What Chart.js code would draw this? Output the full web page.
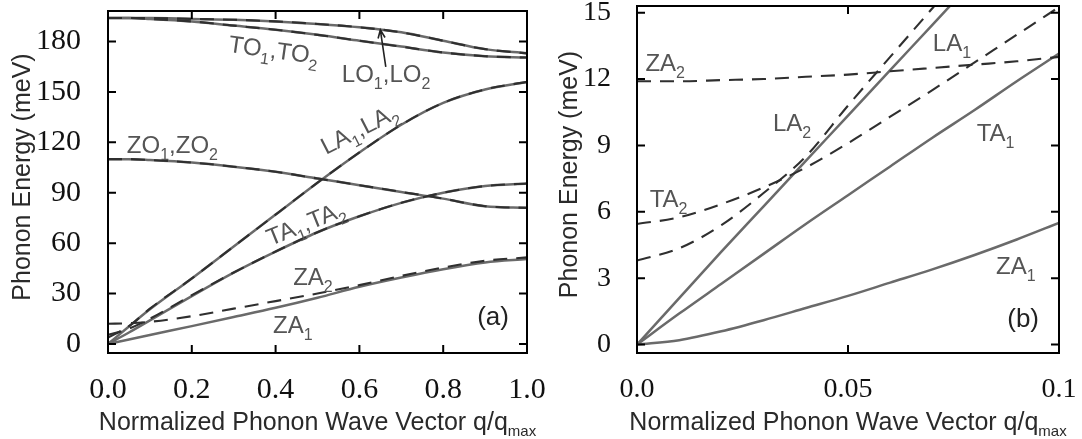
<!DOCTYPE html>
<html>
<head>
<meta charset="utf-8">
<script src="https://cdn.jsdelivr.net/npm/chart.js@4/dist/chart.umd.min.js"></script>
<style>
  body { margin: 0; background: #fff; }
  #wrap { position: relative; width: 1082px; height: 439px; }
  canvas { position: absolute; top: 0; }
</style>
</head>
<body>
<div id="wrap">
  <canvas id="chartA" width="560" height="439" style="left:0"></canvas>
  <canvas id="chartB" width="541" height="439" style="left:541px"></canvas>
</div>
<script>
// panel (a): full zone, q/qmax from 0 to 1
let qA = [0, 0.05, 0.1, 0.2, 0.3, 0.4, 0.5, 0.6, 0.7, 0.8, 0.9, 1.0];
let zaA1 = [0, 2.6, 5.3, 10.6, 16, 21.5, 27.5, 34, 39.5, 44.5, 48.5, 50.5];
let zaA2 = [12, 12.3, 13.2, 16.5, 21, 25.5, 30, 35, 40.5, 45.5, 49.5, 51.5];
let taA1 = [0, 6.8, 14, 28.5, 42.5, 55, 66.5, 76, 84, 90, 94, 95.5];
let taA2 = [5.4, 9.1, 15, 29, 42.5, 55, 66.5, 76, 84, 90, 94, 95.5];
let laA1 = [0, 10.4, 20.6, 39, 58, 77, 96, 114, 130.5, 143.5, 151.5, 156];
let laA2 = [3.8, 10.6, 21, 39, 58, 77, 96, 114, 130.5, 143.5, 151.5, 156];
let zoA = [110, 110, 109.5, 108, 105.5, 102.5, 98.5, 94.5, 90.5, 86.5, 82, 81];
let toA = [194, 194, 193.5, 192, 189.5, 187, 184, 180.5, 177, 173.5, 171.3, 170.5];
let loA = [194, 194, 194, 193.5, 193, 192, 190.5, 188.5, 185.5, 180.5, 175.5, 173];

// panel (b): close-up near the zone centre
let qB = [0, 0.01, 0.02, 0.03, 0.04, 0.05, 0.06, 0.07, 0.08, 0.09, 0.1];
let zaB1 = [0, 0.2, 0.6, 1.1, 1.65, 2.2, 2.8, 3.4, 4.05, 4.75, 5.5];
let zaB2 = [11.9, 11.9, 11.95, 12.0, 12.1, 12.2, 12.35, 12.5, 12.65, 12.8, 13.0];
let taB1 = [0, 1.4, 2.75, 4.1, 5.45, 6.75, 8.05, 9.35, 10.6, 11.9, 13.15];
let taB2 = [5.45, 5.75, 6.35, 7.1, 8.0, 9.1, 10.3, 11.5, 12.75, 14.0, 15.25];
let laB1 = [0, 2.1, 4.2, 6.25, 8.3, 10.35, 12.4, 14.45, 16.5, 18.55, 20.6];
let laB2 = [3.8, 4.35, 5.4, 6.85, 8.5, 10.8, 13.0, 15.2, 17.4, 19.6, 21.8];

// tick values and tick labels
let xTicksA = [0, 0.2, 0.4, 0.6, 0.8, 1.0];
let xTickLabelsA = ['0.0', '0.2', '0.4', '0.6', '0.8', '1.0'];
let yTicksA = [0, 30, 60, 90, 120, 150, 180];
let xTicksB = [0, 0.05, 0.1];
let xTickLabelsB = ['0.0', '0.05', '0.1'];
let yTicksB = [0, 3, 6, 9, 12, 15];

let xTitle = [['Normalized Phonon Wave Vector q/q', 0], ['max', 1]];
let yTitle = [['Phonon Energy (meV)', 0]];

let solidColor = '#6a6a6a';
let dashColor = '#2f2f2f';

// one line per branch, solid = layer 1, dashed = layer 2
function branch(qs, vs, dashed) {
    return {
        data: qs.map((q, i) => ({ x: q, y: vs[i] })),
        borderColor: dashed ? dashColor : solidColor,
        borderWidth: dashed ? 2.1 : 2.5,
        borderDash: dashed ? [14, 9] : [],
        pointRadius: 0,
        cubicInterpolationMode: 'monotone',
        clip: 0,
        order: dashed ? 0 : 1
    };
}

// text with subscripts: parts = [[text, isSub], ...]
function drawRich(ctx, parts, x, y, o) {
    ctx.save();
    ctx.translate(x, y);
    ctx.rotate(o.angle || 0);
    ctx.fillStyle = o.color;
    ctx.textBaseline = o.baseline || 'alphabetic';
    ctx.textAlign = 'left';
    let widths = parts.map(p => {
        ctx.font = (p[1] ? o.sub : o.size) + 'px "Liberation Sans"';
        return ctx.measureText(p[0]).width;
    });
    let cx = o.align === 'center' ? -widths.reduce((s, w) => s + w, 0) / 2 : 0;
    parts.forEach((p, i) => {
        ctx.font = (p[1] ? o.sub : o.size) + 'px "Liberation Sans"';
        ctx.fillText(p[0], cx, p[1] ? o.dy : 0);
        cx += widths[i];
    });
    ctx.restore();
}

// box, inward ticks on all four sides, curve labels and axis titles
let frame = {
    id: 'frame',
    afterDatasetsDraw(chart, args, o) {
        let ctx = chart.ctx, a = chart.chartArea;
        let x = chart.scales.x, y = chart.scales.y;
        ctx.save();
        ctx.strokeStyle = '#000';
        ctx.lineWidth = 2;
        ctx.strokeRect(a.left, a.top, a.right - a.left, a.bottom - a.top);
        ctx.beginPath();
        x.ticks.forEach(t => {
            let px = x.getPixelForValue(t.value);
            ctx.moveTo(px, a.bottom); ctx.lineTo(px, a.bottom - 8);
            ctx.moveTo(px, a.top); ctx.lineTo(px, a.top + 8);
        });
        y.ticks.forEach(t => {
            let py = y.getPixelForValue(t.value);
            ctx.moveTo(a.left, py); ctx.lineTo(a.left + 8, py);
            ctx.moveTo(a.right, py); ctx.lineTo(a.right - 8, py);
        });
        ctx.stroke();

        o.labels.forEach(l => {
            drawRich(ctx, l.parts, x.getPixelForValue(l.q), y.getPixelForValue(l.v),
                { size: 24, sub: 16, dy: 7, color: '#555', angle: (l.angle || 0) * Math.PI / 180 });
        });

        if (o.arrow) {
            let x0 = x.getPixelForValue(o.arrow[0]), y0 = y.getPixelForValue(o.arrow[1]);
            let x1 = x.getPixelForValue(o.arrow[2]), y1 = y.getPixelForValue(o.arrow[3]);
            let ang = Math.atan2(y1 - y0, x1 - x0);
            ctx.strokeStyle = '#222';
            ctx.lineWidth = 1.6;
            ctx.beginPath();
            ctx.moveTo(x0, y0); ctx.lineTo(x1, y1);
            ctx.moveTo(x1 - 9 * Math.cos(ang - 0.4), y1 - 9 * Math.sin(ang - 0.4));
            ctx.lineTo(x1, y1);
            ctx.lineTo(x1 - 9 * Math.cos(ang + 0.4), y1 - 9 * Math.sin(ang + 0.4));
            ctx.stroke();
        }

        drawRich(ctx, [[o.tag, 0]], x.getPixelForValue(o.tagAt[0]), y.getPixelForValue(o.tagAt[1]),
            { size: 26, sub: 16, dy: 7, color: '#222', align: 'center' });

        drawRich(ctx, xTitle, (a.left + a.right) / 2, a.bottom + 77,
            { size: 25, sub: 15, dy: 6, color: '#2a2a2a', align: 'center' });
        drawRich(ctx, yTitle, a.left - o.yTitleGap, (a.top + a.bottom) / 2 - 5,
            { size: 25, sub: 15, dy: 6, color: '#2a2a2a', align: 'center', baseline: 'middle', angle: -Math.PI / 2 });
        ctx.restore();
    }
};

function makeOptions(cfg) {
    let noPad = s => { s.paddingTop = 0; s.paddingBottom = 0; s.paddingLeft = 0; s.paddingRight = 0; };
    return {
        responsive: false,
        animation: false,
        events: [],
        layout: { padding: { top: cfg.top, right: cfg.right, left: 0, bottom: 0 } },
        plugins: {
            legend: { display: false },
            tooltip: { enabled: false },
            frame: cfg.frame
        },
        scales: {
            x: {
                type: 'linear',
                min: cfg.xMin, max: cfg.xMax,
                grid: { display: false },
                border: { display: false },
                afterBuildTicks: s => { s.ticks = cfg.xTicks.map(v => ({ value: v })); },
                afterFit: s => { s.height = 86; noPad(s); },
                ticks: {
                    autoSkip: false, maxRotation: 0, padding: cfg.xPad,
                    color: '#111',
                    font: { family: 'Liberation Serif', size: cfg.font },
                    callback: (v, i) => cfg.xLabels[i]
                }
            },
            y: {
                type: 'linear',
                min: cfg.yMin, max: cfg.yMax,
                grid: { display: false },
                border: { display: false },
                afterBuildTicks: s => { s.ticks = cfg.yTicks.map(v => ({ value: v })); },
                afterFit: s => { s.width = cfg.yWidth; noPad(s); },
                ticks: {
                    padding: cfg.yPad,
                    color: '#111',
                    font: { family: 'Liberation Serif', size: cfg.font },
                    callback: v => String(v)
                }
            }
        }
    };
}

let chartA = new Chart(document.getElementById('chartA').getContext('2d'), {
    type: 'line',
    data: {
        datasets: [
            branch(qA, zaA1, false), branch(qA, zaA2, true),
            branch(qA, taA1, false), branch(qA, taA2, true),
            branch(qA, laA1, false), branch(qA, laA2, true),
            branch(qA, zoA, false), branch(qA, zoA, true),
            branch(qA, toA, false), branch(qA, toA, true),
            branch(qA, loA, false), branch(qA, loA, true)
        ]
    },
    options: makeOptions({
        top: 11, right: 33, yWidth: 108, font: 30, xPad: 11, yPad: 19,
        xMin: 0, xMax: 1, yMin: -5.4, yMax: 198.2,
        xTicks: xTicksA, xLabels: xTickLabelsA, yTicks: yTicksA,
        frame: {
            yTitleGap: 85,
            tag: '(a)', tagAt: [0.919, 11.5],
            arrow: [0.663, 165, 0.650, 187],
            labels: [
                { parts: [['TO', 0], ['1', 1], [',TO', 0], ['2', 1]], q: 0.286, v: 174, angle: 8 },
                { parts: [['LO', 0], ['1', 1], [',LO', 0], ['2', 1]], q: 0.558, v: 156 },
                { parts: [['ZO', 0], ['1', 1], [',ZO', 0], ['2', 1]], q: 0.045, v: 113.5 },
                { parts: [['LA', 0], ['1', 1], [',LA', 0], ['2', 1]], q: 0.52, v: 112.5, angle: -27 },
                { parts: [['TA', 0], ['1', 1], [',TA', 0], ['2', 1]], q: 0.388, v: 58.3, angle: -22 },
                { parts: [['ZA', 0], ['2', 1]], q: 0.442, v: 35.1 },
                { parts: [['ZA', 0], ['1', 1]], q: 0.394, v: 6.4 }
            ]
        }
    }),
    plugins: [frame]
});

let chartB = new Chart(document.getElementById('chartB').getContext('2d'), {
    type: 'line',
    data: {
        datasets: [
            branch(qB, zaB1, false), branch(qB, zaB2, true),
            branch(qB, taB1, false), branch(qB, taB2, true),
            branch(qB, laB1, false), branch(qB, laB2, true)
        ]
    },
    options: makeOptions({
        top: 6, right: 23, yWidth: 96, font: 28, xPad: 12, yPad: 18,
        xMin: 0, xMax: 0.1, yMin: -0.38, yMax: 15.3,
        xTicks: xTicksB, xLabels: xTickLabelsB, yTicks: yTicksB,
        frame: {
            yTitleGap: 67,
            tag: '(b)', tagAt: [0.0915, 0.8],
            labels: [
                { parts: [['ZA', 0], ['2', 1]], q: 0.002, v: 12.38 },
                { parts: [['LA', 0], ['1', 1]], q: 0.0701, v: 13.26 },
                { parts: [['LA', 0], ['2', 1]], q: 0.0322, v: 9.67 },
                { parts: [['TA', 0], ['1', 1]], q: 0.0805, v: 9.22 },
                { parts: [['TA', 0], ['2', 1]], q: 0.003, v: 6.21 },
                { parts: [['ZA', 0], ['1', 1]], q: 0.0851, v: 3.2 }
            ]
        }
    }),
    plugins: [frame]
});
</script>
</body>
</html>
